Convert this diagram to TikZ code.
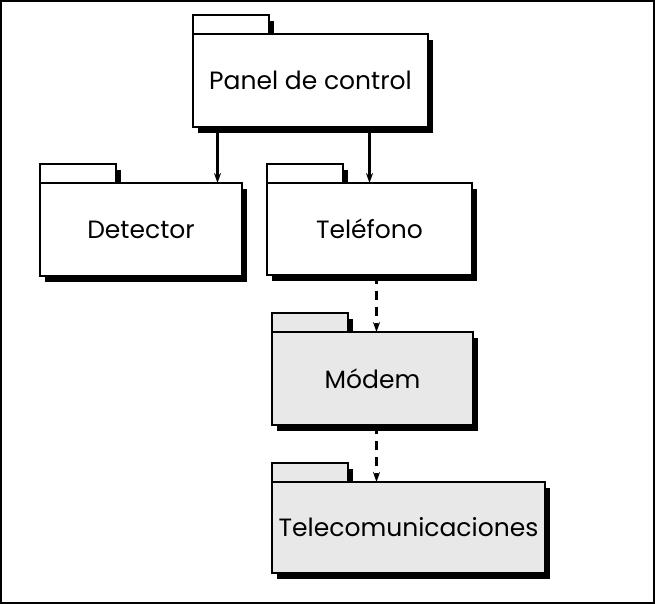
\documentclass[tikz,border=0pt]{standalone}
\usepackage{fontspec}
\setmainfont{Poppins}
\usepackage{tikz}
\usetikzlibrary{arrows.meta,positioning,shadows}

\tikzset{
  paq/.style={draw=black, line width=2pt, fill=white, inner sep=0pt, outer sep=0pt,
    minimum height=93pt, font=\fontsize{25}{29}\selectfont,
    drop shadow={shadow xshift=5pt, shadow yshift=-6pt, fill=black, opacity=1}},
  pestana/.style={paq, minimum width=76pt, minimum height=19pt},
  gris/.style={fill=black!9},
  flecha/.style={-{Stealth[length=10pt,width=7pt]}, line width=2.4pt},
  discont/.style={flecha, dash pattern=on 9pt off 7pt}
}

\begin{document}
\begin{tikzpicture}[x=1pt,y=-1pt]
\useasboundingbox (0,0) rectangle (655,604);
\draw[line width=2pt] (1,1) rectangle (654,603);

\node[pestana, below right] (paneltab) at (193,15) {};
\node[paq, minimum width=235pt, below right=0pt and 0pt of paneltab.south west] (panel) {Panel de control};

\node[pestana, below right] (detectortab) at (40,164) {};
\node[paq, minimum width=202pt, below right=0pt and 0pt of detectortab.south west] (detector) {Detector};

\node[pestana, below right] (telefonotab) at (267,164) {};
\node[paq, minimum width=205pt, minimum height=92pt, below right=0pt and 0pt of telefonotab.south west] (telefono) {Teléfono};

\node[pestana, gris, below right] (modemtab) at (272,313) {};
\node[paq, gris, minimum width=201pt, below right=0pt and 0pt of modemtab.south west] (modem) {Módem};

\node[pestana, gris, below right] (telecomtab) at (272,463) {};
\node[paq, gris, minimum width=273pt, minimum height=91pt, below right=0pt and 0pt of telecomtab.south west] (telecom) {Telecomunicaciones};

% dependencias
\coordinate (d1) at ([xshift=-24.5pt]detector.north east);
\draw[flecha] (d1 |- panel.south) -- (d1);
\draw[flecha] (telefono.north |- panel.south) -- (telefono.north);
\coordinate (m1) at ([xshift=4pt]modem.north);
\draw[discont] (m1 |- telefono.south) -- (m1);
\draw[discont] (m1 |- modem.south) -- (m1 |- telecom.north);
\end{tikzpicture}
\end{document}
